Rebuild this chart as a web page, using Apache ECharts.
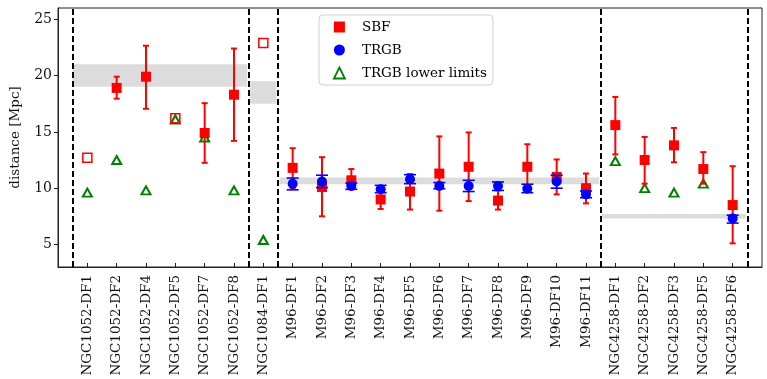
<!DOCTYPE html>
<html>
<head>
<meta charset="utf-8">
<script src="https://cdn.jsdelivr.net/npm/echarts@6/dist/echarts.min.js"></script>
<style>
html,body{margin:0;padding:0;background:#fff;}
#chart{width:767px;height:379px;}
</style>
</head>
<body>
<div id="chart"></div>
<script>
// ---- data ----
const categories = ['NGC1052-DF1','NGC1052-DF2','NGC1052-DF4','NGC1052-DF5','NGC1052-DF7','NGC1052-DF8',
  'NGC1084-DF1',
  'M96-DF1','M96-DF2','M96-DF3','M96-DF4','M96-DF5','M96-DF6','M96-DF7','M96-DF8','M96-DF9','M96-DF10','M96-DF11',
  'NGC4258-DF1','NGC4258-DF2','NGC4258-DF3','NGC4258-DF5','NGC4258-DF6'];
const sbf    = [null,18.9,19.9,null,14.9,18.3, null, 11.8,10.1,10.7,9.0,9.7,11.3,11.9,8.9,11.9,11.0,10.0, 15.6,12.5,13.8,11.7,8.5];
const sbfLo  = [null,17.95,17.05,null,12.25,14.2, null, 10.0,7.5,9.9,8.15,8.1,8.0,8.85,8.1,10.1,9.45,8.65, 13.0,10.4,12.3,10.4,5.1];
const sbfHi  = [null,19.9,22.65,null,17.55,22.4, null, 13.55,12.75,11.7,10.2,11.25,14.6,14.95,9.8,13.9,12.55,11.3, 18.1,14.55,15.35,13.2,11.95];
const sbfOpen = [12.7,null,null,16.2,null,null, 22.9, null,null,null,null,null,null,null,null,null,null,null, null,null,null,null,null];
const trgb   = [null,null,null,null,null,null, null, 10.4,10.6,10.2,9.9,10.8,10.2,10.2,10.2,9.95,10.6,9.45, null,null,null,null,7.3];
const trgbLo = [null,null,null,null,null,null, null, 9.85,10.05,9.9,9.6,10.4,9.95,9.7,9.8,9.6,10.0,9.15, null,null,null,null,6.9];
const trgbHi = [null,null,null,null,null,null, null, 10.9,11.15,10.45,10.25,11.2,10.5,10.7,10.55,10.35,11.15,9.75, null,null,null,null,7.6];
const trgbLim = [9.6,12.5,9.8,16.1,14.5,9.8, 5.4, null,null,null,null,null,null,null,null,null,null,null, 12.4,10.0,9.6,10.4,null];
// shaded group mean ranges: [xFrom, xTo, yLow, yHigh]
const bandX0 = [-0.5, 5.55, 6.55, 17.55];
const bandX1 = [5.45, 6.45, 17.45, 22.45];
const bandY0 = [19.0, 17.5, 10.35, 7.3];
const bandY1 = [21.0, 19.5, 10.95, 7.7];
const groupEdges = [-0.5, 5.5, 6.5, 17.5, 22.5];
const yTicks = [5, 10, 15, 20, 25];

// ---- build ----
const pts = arr => arr.map((v,i)=> v==null?null:[i,v]).filter(d=>d);
const errs = (c,lo,hi) => c.map((v,i)=> v==null?null:[i,lo[i],hi[i]]).filter(d=>d);
const bands = bandX0.map((x,i)=>[x, bandX1[i], bandY0[i], bandY1[i]]);
const SERIF = 'DejaVu Serif';

function errRender(capHalf, color, lw){
  return function(params, api){
    const x = api.value(0), lo = api.value(1), hi = api.value(2);
    const p1 = api.coord([x, lo]), p2 = api.coord([x, hi]);
    const st = {stroke: color, lineWidth: lw};
    return {type:'group', children:[
      {type:'line', shape:{x1:p1[0],y1:p1[1],x2:p2[0],y2:p2[1]}, style:st},
      {type:'line', shape:{x1:p1[0]-capHalf,y1:p1[1],x2:p1[0]+capHalf,y2:p1[1]}, style:st},
      {type:'line', shape:{x1:p2[0]-capHalf,y1:p2[1],x2:p2[0]+capHalf,y2:p2[1]}, style:st}
    ]};
  };
}
function bandRender(params, api){
  const a = api.coord([api.value(0), api.value(3)]);
  const b = api.coord([api.value(1), api.value(2)]);
  return {type:'rect', shape:{x:a[0], y:a[1], width:b[0]-a[0], height:b[1]-a[1]},
    style:{fill:'#dcdcdc'}};
}

const chart = echarts.init(document.getElementById('chart'));
chart.setOption({
  animation:false,
  backgroundColor:'#fff',
  grid:{left:55, right:5, top:8, bottom:112, show:true, borderColor:'#222', borderWidth:1},
  legend:{
    left:319, top:15, orient:'vertical',
    itemWidth:11, itemHeight:11, itemGap:9,
    padding:[5,6,5,14],
    borderColor:'#d0d0d0', borderWidth:1, borderRadius:4,
    backgroundColor:'#fff',
    textStyle:{fontFamily:SERIF, fontSize:13.5, color:'#000', padding:[0,0,0,12]},
    data:[
      {name:'SBF', icon:'rect', itemStyle:{color:'#ff0000', opacity:1}},
      {name:'TRGB', icon:'circle', itemStyle:{color:'#0000ff', opacity:1}},
      {name:'TRGB lower limits', icon:'triangle', itemStyle:{color:'#fff', borderColor:'#008000', borderWidth:1.8, opacity:1}}
    ]
  },
  xAxis:{
    type:'value', min:-1, max:23, interval:1,
    axisLine:{show:true, onZero:false, lineStyle:{color:'#222', width:1}},
    axisTick:{show:true, inside:true, length:4, customValues:categories.map((c,i)=>i), lineStyle:{color:'#222'}},
    axisLabel:{
      customValues:categories.map((c,i)=>i),
      rotate:90, margin:8,
      fontFamily:SERIF, fontSize:13.5, color:'#111',
      formatter: v => categories[Math.round(v)] || ''
    },
    splitLine:{show:false}
  },
  yAxis:{
    type:'value', min:3, max:26,
    name:'distance [Mpc]', nameLocation:'middle', nameGap:36,
    nameTextStyle:{fontFamily:SERIF, fontSize:13.5, color:'#111'},
    axisLine:{show:true, onZero:false, lineStyle:{color:'#222', width:1}},
    axisTick:{show:true, inside:false, length:4, customValues:yTicks, lineStyle:{color:'#222'}},
    axisLabel:{customValues:yTicks, margin:6, fontFamily:SERIF, fontSize:14, color:'#111'},
    splitLine:{show:false}
  },
  series:[
    {name:'bands', type:'custom', renderItem:bandRender, data:bands, z:1, silent:true,
      markLine:{silent:true, symbol:['none','none'], label:{show:false},
        lineStyle:{color:'#000', type:[6,3], width:2},
        data:groupEdges.map(x=>({xAxis:x}))}
    },
    {name:'TRGB lower limits', type:'scatter', symbol:'triangle', symbolSize:[9,8], data:pts(trgbLim), z:3,
      itemStyle:{color:'#fff', borderColor:'#008000', borderWidth:2, opacity:1}},
    {name:'SBF (open)', type:'scatter', symbol:'rect', symbolSize:9, data:pts(sbfOpen), z:3,
      itemStyle:{color:'rgba(255,255,255,0)', borderColor:'#ff0000', borderWidth:1.5, opacity:1}},
    {name:'SBF err', type:'custom', renderItem:errRender(3,'#ff0000',2), data:errs(sbf,sbfLo,sbfHi), z:4},
    {name:'SBF', type:'scatter', symbol:'rect', symbolSize:10, data:pts(sbf), z:5,
      itemStyle:{color:'#ff0000', opacity:1}},
    {name:'TRGB err', type:'custom', renderItem:errRender(6,'#0000ff',1.6), data:errs(trgb,trgbLo,trgbHi), z:6},
    {name:'TRGB', type:'scatter', symbol:'circle', symbolSize:10, data:pts(trgb), z:7,
      itemStyle:{color:'#0000ff', opacity:1}}
  ]
});
</script>
</body>
</html>
